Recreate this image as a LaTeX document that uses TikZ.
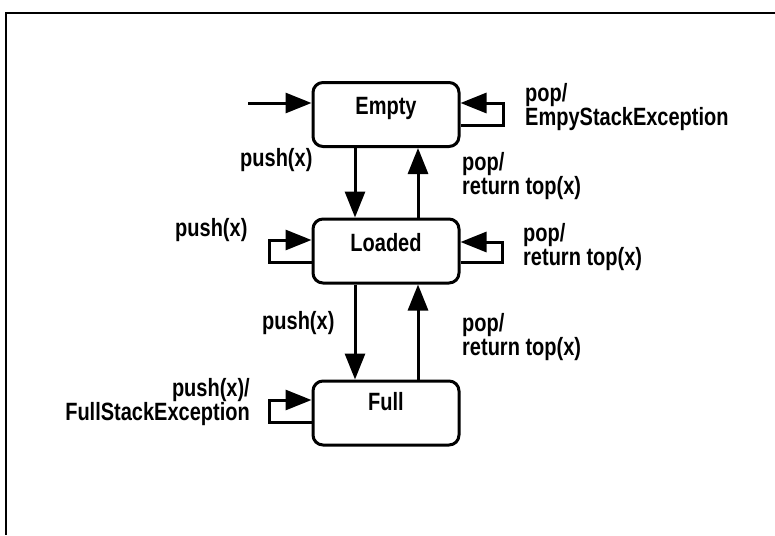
\documentclass[tikz,border=0pt]{standalone}
\usepackage{fontspec}
\setmainfont{Liberation Sans}[FakeStretch=0.8]
\usetikzlibrary{arrows.meta}

\begin{document}
\begin{tikzpicture}[x=1pt,y=-1pt,
    every node/.style={font=\bfseries\fontsize{25}{24}\selectfont},
    estado/.style={draw,line width=3pt,rounded corners=10pt,minimum width=146pt,minimum height=64pt,text height=18pt,text depth=18pt},
    etiq/.style={align=left,inner sep=0pt},
    flecha/.style={line width=3pt,-{Triangle[length=26pt,width=20pt]}}]
        \useasboundingbox (0,0) rectangle (775,535);

        % Marco
        \draw[line width=2pt] (775,13) -- (6,13) -- (6,535);

        % Estados
        \node[estado] (empty) at (386,114.5) {Empty};
        \node[estado] (loaded) at (386,251) {Loaded};
        \node[estado,text depth=24pt] (full) at (386,413) {Full};

        % Estado inicial
        \coordinate (inicio) at (248,103);
        \draw[flecha] (inicio) -- (inicio -| empty.west);

        % Empty <-> Loaded
        \draw[flecha] ([xshift=-31pt]empty.south) -- ([xshift=-31pt]loaded.north);
        \draw[flecha] ([xshift=32pt]loaded.north) -- ([xshift=32pt]empty.south);
        \node[etiq,anchor=west] (pushA) at (240,160) {push(x)};
        \node[etiq,anchor=west] (popA) at (462,176) {pop/\\return top(x)};

        % Loaded <-> Full
        \draw[flecha] ([xshift=-31pt]loaded.south) -- ([xshift=-31pt]full.north);
        \draw[flecha] ([xshift=32pt]full.north) -- ([xshift=32pt]loaded.south);
        \node[etiq,anchor=west] (pushB) at (262,323) {push(x)};
        \node[etiq,anchor=west] (popB) at (462,337) {pop/\\return top(x)};

        % Lazos de Empty
        \draw[flecha] ([yshift=-10.5pt]empty.east) -- ++(43,0) |- ([yshift=11.5pt]empty.east);
        \node[etiq,anchor=west] (popE) at (525,107) {pop/\\EmpyStackException};

        % Lazos de Loaded
        \draw[flecha] ([yshift=-11pt]loaded.west) -- ++(-42,0) |- ([yshift=11pt]loaded.west);
        \draw[flecha] ([yshift=-11pt]loaded.east) -- ++(42,0) |- ([yshift=9pt]loaded.east);
        \node[etiq,anchor=west] (pushL) at (175,230) {push(x)};
        \node[etiq,anchor=west] (popL) at (523,247) {pop/\\return top(x)};

        % Lazo de Full
        \draw[flecha] ([yshift=-9pt]full.west) -- ++(-42,0) |- ([yshift=13pt]full.west);
        \node[etiq,align=right,anchor=east] (pushF) at (250,402) {push(x)/\\FullStackException};
    \end{tikzpicture}
\end{document}
